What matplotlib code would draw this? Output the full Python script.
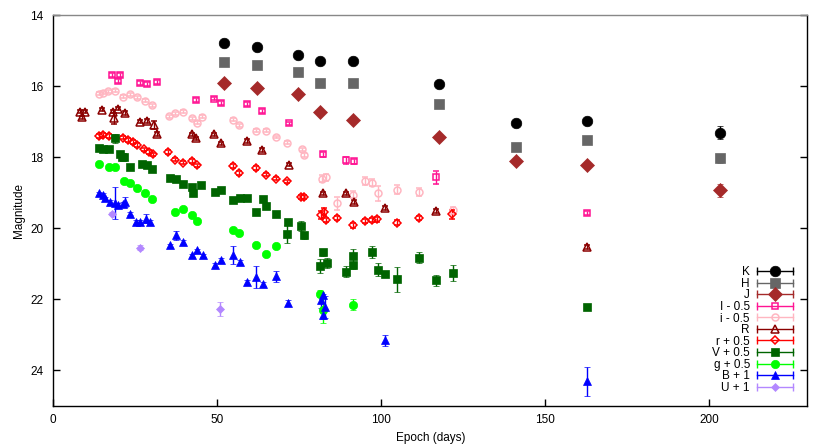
import numpy as np
import matplotlib
matplotlib.use('Agg')
import matplotlib.pyplot as plt
from matplotlib.lines import Line2D
from matplotlib.legend_handler import HandlerBase

plt.rcParams['font.family'] = ['Liberation Sans', 'DejaVu Sans']
plt.rcParams['font.size'] = 8.5

## Light curve data (epoch in days, magnitude, error)
K_t = [52.0, 62.0, 74.7, 81.4, 91.5, 117.7, 141.2, 162.9, 203.5]
K_m = [14.80, 14.89, 15.12, 15.29, 15.29, 15.94, 17.05, 16.98, 17.31]
K_e = [0.03, 0.03, 0.03, 0.03, 0.03, 0.05, 0.05, 0.06, 0.18]

H_t = [52.0, 62.0, 74.7, 81.4, 91.5, 117.7, 141.2, 162.9, 203.5]
H_m = [15.33, 15.42, 15.60, 15.90, 15.91, 16.50, 17.70, 17.53, 18.03]
H_e = [0.03, 0.03, 0.03, 0.03, 0.03, 0.05, 0.05, 0.10, 0.12]

J_t = [52.0, 62.0, 74.7, 81.4, 91.5, 117.7, 141.2, 162.9, 203.5]
J_m = [15.91, 16.05, 16.21, 16.72, 16.94, 17.43, 18.11, 18.23, 18.93]
J_e = [0.03, 0.03, 0.03, 0.03, 0.03, 0.05, 0.05, 0.06, 0.18]

I_t = [17.8, 19.8, 20.3, 26.4, 28.7, 31.7, 43.5, 49.1, 51.1, 59.0, 63.8, 71.8,
       82.4, 89.3, 91.6, 116.6, 162.9]
I_m = [15.69, 15.85, 15.69, 15.92, 15.94, 15.88, 16.39, 16.35, 16.47, 16.51, 16.70,
       17.05, 17.92, 18.09, 18.12, 18.57, 19.56]
I_e = [0.05, 0.05, 0.05, 0.05, 0.05, 0.05, 0.05, 0.05, 0.05, 0.05, 0.05, 0.05,
       0.08, 0.10, 0.08, 0.18, 0.06]

i_t = [13.8, 15.2, 16.8, 18.8, 21.3, 23.4, 25.4, 28.0, 30.0, 35.3, 37.1, 39.5,
       42.2, 43.7, 45.5, 54.7, 56.7, 61.7, 64.8, 67.8, 71.4, 75.8, 76.6, 81.9,
       83.2, 86.4, 91.4, 95.2, 97.1, 98.9, 104.9, 111.6, 121.8]
i_m = [16.21, 16.18, 16.14, 16.13, 16.30, 16.23, 16.32, 16.41, 16.54, 16.85, 16.77,
       16.72, 16.91, 17.03, 16.86, 16.94, 17.10, 17.26, 17.26, 17.43, 17.59, 17.78,
       17.94, 18.60, 18.56, 19.30, 19.05, 18.67, 18.72, 19.02, 18.91, 18.98, 19.49]
i_e = [0.04, 0.04, 0.04, 0.04, 0.04, 0.04, 0.04, 0.04, 0.04, 0.04, 0.04, 0.04,
       0.04, 0.04, 0.04, 0.04, 0.04, 0.04, 0.04, 0.04, 0.04, 0.05, 0.05, 0.10,
       0.10, 0.18, 0.10, 0.12, 0.10, 0.20, 0.12, 0.12, 0.10]

R_t = [8.1, 8.7, 9.7, 14.8, 18.3, 18.6, 19.8, 21.9, 26.4, 28.5, 30.7, 31.5, 42.2,
       43.5, 49.1, 51.1, 59.0, 63.8, 71.8, 82.4, 89.2, 91.6, 101.1, 116.6, 162.9]
R_m = [16.72, 16.88, 16.72, 16.66, 16.72, 16.91, 16.63, 16.75, 17.00, 16.98, 17.10,
       17.35, 17.36, 17.47, 17.36, 17.61, 17.55, 17.80, 18.21, 19.02, 19.02, 19.26,
       19.43, 19.51, 20.53]
R_e = [0.05, 0.05, 0.05, 0.05, 0.05, 0.15, 0.05, 0.05, 0.05, 0.05, 0.12, 0.05, 0.05,
       0.05, 0.05, 0.05, 0.05, 0.05, 0.05, 0.05, 0.05, 0.05, 0.05, 0.05, 0.05]

r_t = [14.0, 15.2, 17.1, 21.3, 22.9, 24.2, 25.6, 27.7, 29.3, 30.3, 35.1, 37.1,
       39.5, 42.2, 43.7, 54.7, 56.7, 61.7, 64.8, 67.8, 71.4, 75.6, 76.4, 81.8,
       82.5, 83.2, 86.4, 91.3, 95.2, 97.1, 98.8, 104.9, 111.6, 121.7]
r_m = [17.41, 17.38, 17.41, 17.45, 17.52, 17.57, 17.66, 17.78, 17.85, 17.92, 17.85,
       18.07, 18.15, 18.10, 18.23, 18.25, 18.44, 18.30, 18.49, 18.60, 18.68, 19.12,
       19.12, 19.63, 19.54, 19.77, 19.71, 19.92, 19.80, 19.77, 19.75, 19.84, 19.71,
       19.61]
r_e = [0.05] * 23 + [0.12, 0.10, 0.06, 0.06, 0.06, 0.06, 0.06, 0.06, 0.06, 0.06, 0.12]

V_t = [14.0, 15.2, 17.1, 18.8, 20.3, 20.9, 21.6, 23.4, 27.0, 28.5, 30.0, 35.6,
       37.4, 39.5, 42.3, 42.5, 45.2, 49.3, 51.1, 54.8, 56.8, 59.0, 61.7, 63.9,
       65.0, 67.8, 71.7, 71.2, 75.7, 76.4, 81.5, 82.4, 83.4, 89.2, 91.3, 91.5,
       97.1, 98.9, 101.1, 104.9, 111.6, 116.6, 121.8, 162.9]
V_m = [17.73, 17.76, 17.78, 17.47, 17.90, 17.99, 17.99, 18.27, 18.20, 18.23, 18.32,
       18.58, 18.62, 18.74, 18.84, 19.02, 18.79, 18.98, 18.93, 19.21, 19.16, 19.16,
       19.54, 19.19, 19.36, 19.59, 19.82, 20.15, 19.94, 20.20, 21.07, 20.67, 20.98,
       21.22, 20.79, 21.04, 20.67, 21.17, 21.30, 21.44, 20.83, 21.46, 21.26, 22.21]
V_e = [0.04, 0.04, 0.04, 0.12, 0.04, 0.04, 0.04, 0.04, 0.04, 0.04, 0.04, 0.04,
       0.04, 0.04, 0.04, 0.04, 0.04, 0.04, 0.04, 0.04, 0.04, 0.04, 0.04, 0.04,
       0.04, 0.04, 0.06, 0.25, 0.15, 0.10, 0.20, 0.10, 0.15, 0.15, 0.20, 0.10,
       0.18, 0.18, 0.05, 0.35, 0.15, 0.15, 0.22, 0.08]

g_t = [14.0, 17.1, 18.8, 21.5, 23.4, 25.5, 28.0, 30.0, 37.1, 39.5, 42.2, 43.7,
       54.7, 56.7, 61.7, 64.8, 67.8, 81.3, 82.3, 91.3]
g_m = [18.18, 18.27, 18.27, 18.68, 18.73, 18.86, 19.01, 19.17, 19.54, 19.45, 19.63,
       19.80, 20.06, 20.13, 20.48, 20.73, 20.51, 21.84, 22.31, 22.15]
g_e = [0.03] * 17 + [0.10, 0.35, 0.15]

B_t = [14.0, 15.1, 15.8, 17.3, 18.8, 19.8, 21.2, 21.9, 23.4, 25.2, 26.4, 28.3,
       29.5, 35.6, 37.4, 39.5, 42.2, 43.7, 45.7, 49.3, 51.1, 54.7, 56.9, 59.0,
       61.8, 64.0, 67.8, 71.7, 81.8, 82.3, 82.8, 82.3, 101.1, 162.9]
B_m = [19.02, 19.07, 19.16, 19.26, 19.30, 19.35, 19.32, 19.26, 19.59, 19.82, 19.82,
       19.73, 19.82, 20.48, 20.20, 20.39, 20.76, 20.62, 20.76, 21.04, 20.90, 20.76,
       20.95, 21.51, 21.37, 21.56, 21.35, 22.10, 22.03, 21.89, 22.21, 22.45, 23.15,
       24.31]
B_e = [0.05, 0.05, 0.05, 0.05, 0.45, 0.05, 0.05, 0.15, 0.05, 0.05, 0.05, 0.12,
       0.05, 0.05, 0.12, 0.05, 0.05, 0.05, 0.05, 0.05, 0.05, 0.25, 0.05, 0.05,
       0.30, 0.05, 0.15, 0.08, 0.20, 0.05, 0.30, 0.10, 0.15, 0.42]

U_t = [17.8, 26.6, 51.0]
U_m = [19.59, 20.55, 22.26]
U_e = [0.05, 0.07, 0.20]

# label, data, colour, marker, size, filled
bands = [
    ('K', K_t, K_m, K_e, 'black', 'o', 7.6, True),
    ('H', H_t, H_m, H_e, '#666666', 's', 6.8, True),
    ('J', J_t, J_m, J_e, '#a52a2a', 'D', 6.8, True),
    ('I - 0.5', I_t, I_m, I_e, '#ff1493', 's', 4.6, False),
    ('i - 0.5', i_t, i_m, i_e, '#ffb6c1', 'o', 5.0, False),
    ('R', R_t, R_m, R_e, '#8b0000', '^', 5.2, False),
    ('r + 0.5', r_t, r_m, r_e, '#ff0000', 'D', 3.6, False),
    ('V + 0.5', V_t, V_m, V_e, '#006400', 's', 6.0, True),
    ('g + 0.5', g_t, g_m, g_e, '#00ff00', 'o', 6.0, True),
    ('B + 1', B_t, B_m, B_e, '#0000ff', '^', 5.6, True),
    ('U + 1', U_t, U_m, U_e, '#b388ff', 'D', 3.6, True),
]


class ErrKey(HandlerBase):
    ''' gnuplot-like key sample: horizontal bar with caps, marker in the middle '''
    def create_artists(self, legend, orig, xdescent, ydescent, width, height,
                       fontsize, trans):
        y = height / 2.0 - ydescent
        x0, x1 = -xdescent, width - xdescent
        c = orig.get_color()
        bar = Line2D([x0, x1], [y, y], color=c, lw=1.0)
        caps = Line2D([x0, x1], [y, y], color=c, ls='none', marker='|',
                      markersize=6, markeredgewidth=1.0)
        mk = Line2D([(x0 + x1) / 2.0], [y], ls='none', marker=orig.get_marker(),
                    markersize=orig.get_markersize(),
                    markerfacecolor=orig.get_markerfacecolor(),
                    markeredgecolor=orig.get_markeredgecolor(),
                    markeredgewidth=orig.get_markeredgewidth())
        for a in (bar, caps, mk):
            a.set_transform(trans)
        return [bar, caps, mk]


fig = plt.figure(figsize=(8.30, 4.47), dpi=100)
ax = fig.add_axes([0.0642, 0.0917, 0.9085, 0.8747])

handles = []
for lab, t, m, e, col, mk, ms, filled in bands:
    fc = col if filled else 'none'
    mw = 0.5 if filled else 1.1
    ax.errorbar(t, m, yerr=e, fmt=mk, color=col, mfc=fc, mec=col, ms=ms,
                mew=mw, elinewidth=1.0, capsize=2.2, capthick=1.0)
    handles.append(Line2D([], [], color=col, marker=mk, ls='-', markersize=ms,
                          markerfacecolor=fc, markeredgecolor=col, markeredgewidth=mw))

ax.set_xlim(0, 230)
ax.set_ylim(25, 14)
ax.set_xticks([0, 50, 100, 150, 200])
ax.set_yticks([14, 16, 18, 20, 22, 24])
ax.tick_params(direction='in', length=5, width=1, right=True, top=False,
               labelsize=8.5)
ax.tick_params(axis='y', pad=7)
ax.tick_params(axis='x', pad=6)
ax.spines['top'].set_color('#888888')
for s in ax.spines.values():
    s.set_linewidth(1.0)

ax.set_xlabel('Epoch (days)', fontsize=8.5)
ax.set_ylabel('Magnitude', fontsize=8.5)
ax.xaxis.set_label_coords(0.5, -0.066)
ax.yaxis.set_label_coords(-0.0375, 0.5)

# markerfirst=False right-aligns the rows, so labels end just before the key
leg = ax.legend(handles, [b[0] for b in bands], loc='lower right',
                bbox_to_anchor=(0.981, 0.0315), frameon=False, markerfirst=False,
                handler_map={Line2D: ErrKey()}, handlelength=3.05,
                handletextpad=0.6, labelspacing=-0.04, borderpad=0,
                borderaxespad=0, fontsize=8.5)

fig.savefig('out.png', dpi=100)
